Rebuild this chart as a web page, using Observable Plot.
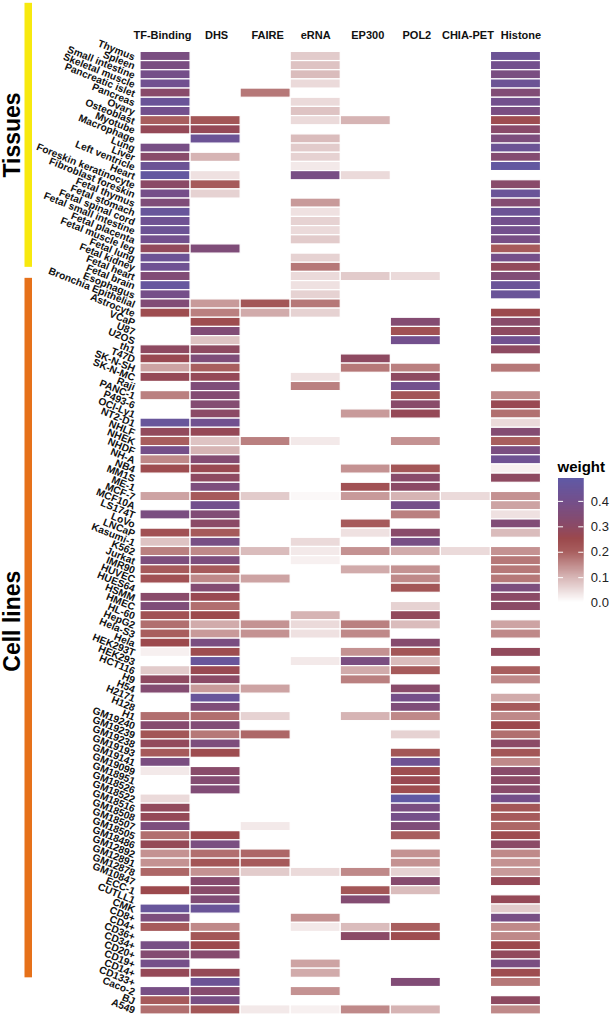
<!DOCTYPE html>
<html><head><meta charset="utf-8">
<script src="https://cdn.jsdelivr.net/npm/d3@7"></script>
<script src="https://cdn.jsdelivr.net/npm/@observablehq/plot@0.6"></script>
<style>
html,body{margin:0;padding:0;background:#fff}
#c{position:relative;width:615px;height:1023px;overflow:hidden}
#c svg{position:absolute;left:0;top:0;background:transparent}
</style></head><body><div id="c"></div>
<script>
const n = null;
const samples = ["Thymus","Spleen","Small intestine","Skeletal muscle","Pancreatic islet","Pancreas","Ovary","Osteoblast","Myotube","Macrophage",
"Lung","Liver","Left ventricle","Heart","Foreskin keratinocyte","Fibroblast foreskin","Fetal thymus","Fetal stomach","Fetal spinal cord","Fetal small intestine",
"Fetal placenta","Fetal muscle leg","Fetal lung","Fetal kidney","Fetal heart","Fetal brain","Esophagus","Bronchia Epithelial","Astrocyte","VCaP",
"U87","U2OS","th1","T47D","SK-N-SH","SK-N-MC","Raji","PANC-1","P493-6","OCI-Ly1",
"NT2-D1","NHLF","NHEK","NHDF","NH-A","NB4","MM1S","ME-1","MCF-7","MCF10A",
"LS174T","LoVo","LNCaP","Kasumi-1","K562","Jurkat","IMR90","HUVEC","HUES64","HSMM",
"HMEC","HL-60","HepG2","Hela-S3","Hela","HEK293T","HEK293","HCT116","H9","H54",
"H2171","H128","H1","GM19240","GM19239","GM19238","GM19193","GM19141","GM19099","GM18951",
"GM18526","GM18522","GM18516","GM18508","GM18507","GM18505","GM18486","GM12892","GM12891","GM12878",
"GM10847","ECC-1","CUTLL1","CMK","CD8+","CD4+","CD36+","CD34+","CD20+","CD19+",
"CD14+","CD133+","Caco-2","BJ","A549"];
const assays = ["TF-Binding","DHS","FAIRE","eRNA","EP300","POL2","CHIA-PET","Histone"];
const tfBinding = [.37,.37,.39,.41,.31,.44,.40,.20,.27,n,
.38,.31,.43,.47,.30,.39,.35,.45,.42,.43,
.40,.28,.43,.42,.34,.46,.39,.34,.24,n,
n,n,.29,.26,.12,.27,n,.16,n,n,
.45,.28,.20,.39,.15,.24,n,n,.12,n,
.37,n,.23,.08,.16,.36,.21,.23,n,.31,
.35,.23,.18,.20,.25,.02,n,.07,.29,.33,
n,n,.18,.32,.22,.28,.21,.37,.03,n,
n,.05,.28,.27,.36,.18,.27,.14,.14,.19,
n,.25,n,.45,.36,.21,n,.38,.33,.39,
.27,n,.38,.21,.18];
const dhs = [n,n,n,n,n,n,n,.22,.27,.43,
n,.10,n,.04,.21,.06,n,n,n,n,
n,.35,n,n,n,n,n,.13,.16,.24,
.34,.08,.29,.35,.20,.27,.35,.33,.33,.30,
.41,.27,.08,.10,.33,.26,.29,.36,.21,.40,
.34,.30,.21,.38,.15,.36,.21,.15,.33,.26,
.18,.25,.11,.13,.37,.24,.45,.26,.30,.13,
.45,.35,.18,.34,.17,.36,.24,n,.31,.33,
.34,n,n,n,n,.25,.37,.18,.22,.14,
.32,.31,.34,.44,n,.15,.22,.25,.32,n,
.27,.43,.32,.38,.22];
const faire = [n,n,n,n,.17,n,n,n,n,n,
n,n,n,n,n,n,n,n,n,n,
n,n,n,n,n,n,n,.22,.11,n,
n,n,n,n,n,n,n,n,n,n,
n,n,.16,n,n,n,n,n,.07,n,
n,n,n,n,.09,n,n,.12,n,n,
n,n,.14,.14,n,n,n,n,n,.12,
n,n,.06,n,.19,n,n,n,n,n,
n,n,n,n,.03,n,n,.19,.21,.07,
n,n,n,n,n,n,n,n,n,n,
n,n,n,n,.03];
const eRNA = [.07,.08,.09,.05,n,.05,.08,.05,n,.09,
.07,.06,.03,.38,n,n,.13,.04,.06,.05,
.07,n,.06,.17,.05,.04,.06,.17,.06,n,
n,n,n,n,n,.04,.16,n,n,n,
n,n,.03,n,n,n,n,n,.01,n,
n,n,n,.05,.03,.02,n,n,n,n,
n,.10,.05,.04,n,n,.03,n,n,n,
n,n,n,n,n,n,n,n,n,n,
n,n,n,n,n,n,n,n,n,.05,
n,n,n,n,.14,.03,n,n,n,.12,
.11,n,.14,n,.02];
const ep300 = [n,n,n,n,n,n,n,.10,n,n,
n,n,n,.05,n,n,n,n,n,n,
n,n,n,n,.07,n,n,n,n,n,
n,n,n,.29,.17,n,n,n,n,.13,
n,n,n,n,n,.14,n,.23,.13,n,
n,.21,.04,n,.14,n,.11,n,n,n,
n,n,.16,.15,n,.14,.37,.11,.16,n,
n,n,.10,n,n,n,n,n,n,n,
n,n,n,n,n,n,n,n,n,.15,
n,.22,.33,n,n,.09,.30,n,n,n,
n,n,n,n,.15];
const pol2 = [n,n,n,n,n,n,n,n,n,n,
n,n,n,n,n,n,n,n,n,n,
n,n,n,n,.05,n,n,n,n,.33,
.23,.40,n,n,.16,.29,.40,.22,.31,.27,
n,n,.14,n,n,.22,.31,.30,.10,.39,
.16,n,.31,.38,.11,n,.14,.15,.22,n,
.06,.28,.09,n,.32,.22,.09,.21,n,.31,
.39,.35,.15,n,.06,n,.22,.42,.24,.26,
.24,.48,.37,.39,.35,.20,n,.14,.14,.06,
.32,.09,n,n,n,.20,.24,n,n,n,
n,.34,n,n,.10];
const chiaPet = [n,n,n,n,n,n,n,n,n,n,
n,n,n,n,n,n,n,n,n,n,
n,n,n,n,n,n,n,n,n,n,
n,n,n,n,n,n,n,n,n,n,
n,n,n,n,n,n,n,n,.05,n,
n,n,n,n,.05,n,n,n,n,n,
n,n,n,n,n,n,n,n,n,n,
n,n,n,n,n,n,n,n,n,n,
n,n,n,n,n,n,n,n,n,n,
n,n,n,n,n,n,n,n,n,n,
n,n,n,n,n];
const histone = [.43,.40,.37,.43,.34,.40,.37,.24,.31,.36,
.43,.33,.47,n,.31,.44,.33,.43,.40,.40,
.38,.21,.39,.28,.34,.44,.44,n,.25,.31,
.29,.41,.29,n,.17,n,n,.15,.26,.18,
.05,.33,.20,.37,.42,.02,.29,n,.14,.12,
.04,.34,.09,n,.14,.17,.17,.17,.36,.30,
.30,n,.12,.15,n,.28,n,.20,.15,n,
.11,.21,.15,.25,.18,.30,.22,.15,.31,.30,
.31,.39,.22,.21,.19,.24,.30,.15,.14,.13,
.27,n,.27,.07,.38,.15,.15,.25,.28,.37,
.24,.17,n,.29,.15];
const columns = [tfBinding,dhs,faire,eRNA,ep300,pol2,chiaPet,histone];
const groupNames = ["Tissues","Cell lines"];
const groupFirstRow = [-5.3,24.7];
const groupLastRow = [23.5,101];
const groupColors = ["#f7e90f","#e6711a"];
const weightStops = [0,.1,.2,.25,.3,.4,.49];
const weightColors = ["#ffffff","#d6b4b4","#a85e5e","#9c494d","#8b4a66","#73508d","#5f5aa6"];
const legendTicks = [0,.1,.2,.3,.4];

const font = "'Liberation Sans', Arial, sans-serif";
const ramp = d3.scaleLinear().domain(weightStops).range(weightColors).interpolate(d3.interpolateRgb).clamp(true);
const colorScale = {type:"linear",domain:[0,.49],interpolate:t=>ramp(t*.49)};
const cells = [];
columns.forEach((col,j)=>col.forEach((v,i)=>{ if(v!=null) cells.push({assay:assays[j],sample:samples[i],weight:v}); }));

const W=615,H=1023,T=51.4,B=9;
const headerShift = [-3,1,2,0,2,1,2,5];
const main = Plot.plot({
  width:W,height:H,marginLeft:140,marginRight:74.5,marginTop:T,marginBottom:B,
  style:{fontFamily:font,background:"transparent"},
  x:{domain:assays,padding:0,round:false,label:null,axis:null},
  y:{domain:samples,padding:0,round:false,label:null,axis:null},
  color:colorScale,
  marks:[
    Plot.cell(cells,{x:"assay",y:"sample",fill:"weight",stroke:"#fff",strokeWidth:1.2,inset:0}),
    ...assays.map((a,i)=>Plot.text([a],{x:d=>d,frameAnchor:"top",dy:-21,dx:headerShift[i],fontSize:11,fontWeight:"bold",fill:"#111",text:d=>d})),
    Plot.axisY({anchor:"left",tickSize:0,tickPadding:6,tickRotate:22,dy:1,label:null,fontSize:10.2,fontWeight:"bold",fill:"#111"})
  ]
});
document.getElementById("c").appendChild(main);

const side = Plot.plot({
  width:W,height:H,marginLeft:0,marginRight:0,marginTop:T,marginBottom:B,
  style:{fontFamily:font,background:"transparent"},
  x:{domain:[0,W],range:[0,W],axis:null},
  y:{domain:[0,105],axis:null,range:[T,H-B]},
  marks:[
    Plot.rect(groupNames,{x1:()=>24.5,x2:()=>32,y1:(d,i)=>groupFirstRow[i],y2:(d,i)=>groupLastRow[i],fill:(d,i)=>groupColors[i]}),
    Plot.text(groupNames,{x:()=>12.5,y:(d,i)=>[9.06,62.1][i],text:d=>d,rotate:-90,fontSize:23,fontWeight:"bold",fill:"#000",textAnchor:"middle"})
  ]
});
document.getElementById("c").appendChild(side);

const strips = d3.range(0,.49,.004);
const legend = Plot.plot({
  width:W,height:H,marginLeft:558,marginRight:31.7,marginTop:478,marginBottom:H-602.6,
  style:{fontFamily:font,background:"transparent"},
  x:{domain:[0,1],axis:null},
  y:{domain:[0,.49],axis:null},
  color:colorScale,
  marks:[
    Plot.rect(strips,{x1:()=>0,x2:()=>1,y1:d=>d,y2:d=>Math.min(d+.016,.49),fill:d=>d}),
    Plot.ruleY(legendTicks.slice(1),{x1:0,x2:.2,stroke:"#fff",strokeWidth:1}),
    Plot.ruleY(legendTicks.slice(1),{x1:.8,x2:1,stroke:"#fff",strokeWidth:1}),
    Plot.axisY(legendTicks,{anchor:"right",tickSize:0,tickPadding:7,label:null,fontSize:13,fill:"#222",tickFormat:d3.format(".1f")}),
    Plot.text(["weight"],{frameAnchor:"top-left",dy:-17,dx:-1,fontSize:15,fontWeight:"bold",fill:"#000",textAnchor:"start"})
  ]
});
document.getElementById("c").appendChild(legend);
</script></body></html>
